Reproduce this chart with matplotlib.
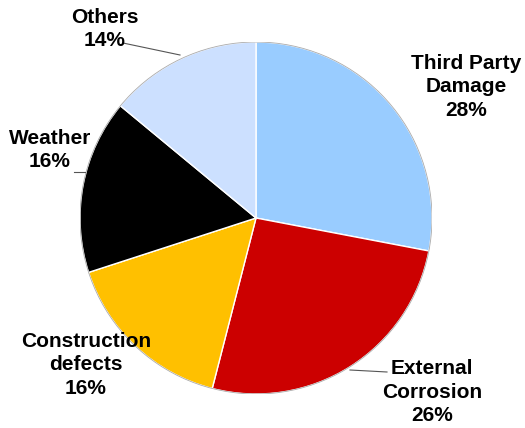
import matplotlib.pyplot as plt

labels = ['Third Party\nDamage', 'External\nCorrosion', 'Construction\ndefects', 'Weather', 'Others']
share = [28, 26, 16, 16, 14]
colors = ['#99CCFF', '#CC0000', '#FFC000', '#000000', '#CCE0FF']

W, H = 525, 428
cx, cy, r = 256, 218, 176

fig = plt.figure(figsize=(W / 100, H / 100), dpi=100)
ax = fig.add_axes([(cx - r) / W, (H - cy - r) / H, 2 * r / W, 2 * r / H])
ax.pie(share, colors=colors, startangle=90, counterclock=False,
       wedgeprops=dict(edgecolor='white', linewidth=1))
# thin grey rim
ax.add_artist(plt.Circle((0, 0), 1.0, fill=False, edgecolor='#AAAAAA', lw=0.6))
ax.set_xlim(-1, 1)
ax.set_ylim(-1, 1)
ax.axis('off')


def px(x, y):
    return (x - cx) / r, (cy - y) / r


# label positions in pixel coords of the reference
label_pos = [(466, 87), (432, 392), (86, 365), (50, 150), (105, 29)]
for lab, val, (x, y) in zip(labels, share, label_pos):
    ax.text(*px(x, y), f'{lab}\n{val}%', ha='center', va='center',
            fontsize=15, fontweight='bold', family='Liberation Sans',
            linespacing=1.33, clip_on=False)

# leader lines
for (x0, y0), (x1, y1) in [((123, 43), (180, 55)), ((350, 370), (387, 372)),
                           ((74, 172), (85, 172))]:
    a, b = px(x0, y0)
    c, d = px(x1, y1)
    ax.plot([a, c], [b, d], color='#555555', lw=0.8, clip_on=False)

fig.savefig('out.png', dpi=100)
